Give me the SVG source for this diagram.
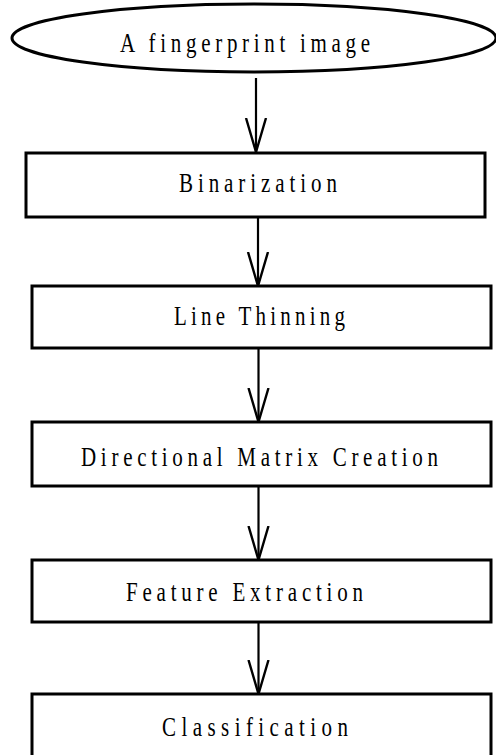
<svg xmlns="http://www.w3.org/2000/svg" width="496" height="755" viewBox="0 0 496 755">
  <style>
    .shape { fill: #ffffff; stroke: #000000; stroke-width: 3; }
    .label { font-family: "Liberation Serif", "Times New Roman", serif; font-size: 28px; fill: #000000; }
    .link { fill: none; stroke: #000000; stroke-width: 2.2; }
  </style>
  <defs>
    <marker id="openArrow" markerUnits="userSpaceOnUse" viewBox="0 -12 36 24" refX="34" refY="0" markerWidth="36" markerHeight="24" orient="auto">
      <path d="M0,-10 L34,0 L0,10" fill="none" stroke="#000000" stroke-width="2.4"/>
    </marker>
  </defs>

  <rect x="0" y="0" width="496" height="755" fill="#ffffff"/>

  <!-- flow connectors -->
  <g id="connectors">
    <line class="link" x1="256" y1="78" x2="256" y2="152" marker-end="url(#openArrow)"/>
    <line class="link" x1="258" y1="217" x2="258" y2="286" marker-end="url(#openArrow)"/>
    <line class="link" x1="258.5" y1="348" x2="258.5" y2="422" marker-end="url(#openArrow)"/>
    <line class="link" x1="258.5" y1="486" x2="258.5" y2="560" marker-end="url(#openArrow)"/>
    <line class="link" x1="258.5" y1="622" x2="258.5" y2="694" marker-end="url(#openArrow)"/>
  </g>

  <!-- labels are drawn narrowed horizontally (scale 0.75) to get tall, condensed letters -->
  <g id="input-image">
    <ellipse class="shape" cx="254" cy="38" rx="242" ry="34"/>
    <text class="label" transform="scale(0.75 1)" x="160" y="52" textLength="333.3" lengthAdjust="spacing">A fingerprint image</text>
  </g>

  <g id="binarization">
    <rect class="shape" x="26" y="153" width="459" height="64"/>
    <text class="label" transform="scale(0.75 1)" x="238.67" y="192" textLength="210.67" lengthAdjust="spacing">Binarization</text>
  </g>

  <g id="line-thinning">
    <rect class="shape" x="32" y="286" width="459" height="62"/>
    <text class="label" transform="scale(0.75 1)" x="232" y="325" textLength="228" lengthAdjust="spacing">Line Thinning</text>
  </g>

  <g id="directional-matrix">
    <rect class="shape" x="32" y="422" width="459" height="64"/>
    <text class="label" transform="scale(0.75 1)" x="108" y="466" textLength="476" lengthAdjust="spacing">Directional Matrix Creation</text>
  </g>

  <g id="feature-extraction">
    <rect class="shape" x="32" y="560" width="459" height="62"/>
    <text class="label" transform="scale(0.75 1)" x="168" y="601" textLength="316" lengthAdjust="spacing">Feature Extraction</text>
  </g>

  <g id="classification">
    <rect class="shape" x="32" y="694" width="459" height="70"/>
    <text class="label" transform="scale(0.75 1)" x="216" y="736" textLength="248" lengthAdjust="spacing">Classification</text>
  </g>
</svg>
